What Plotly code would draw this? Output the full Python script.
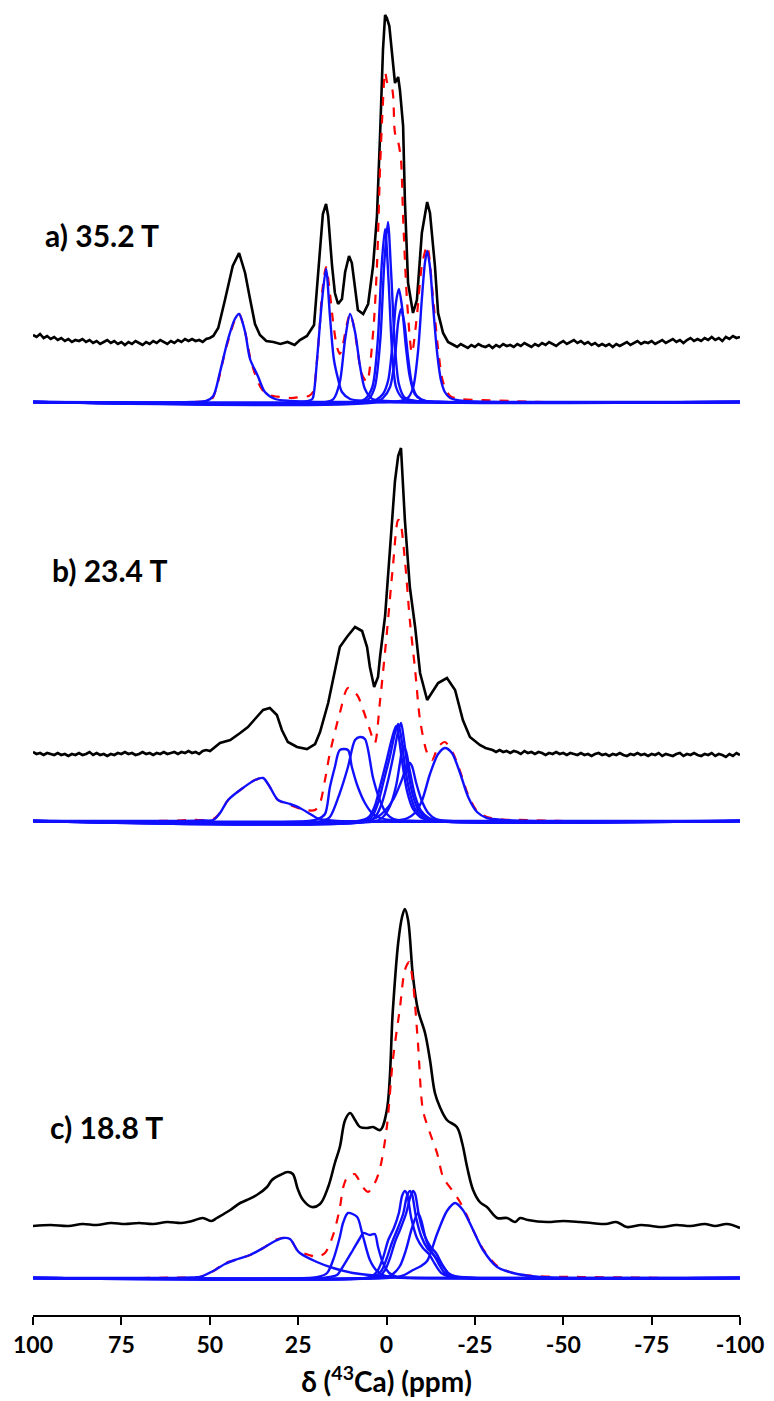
import numpy as np
import plotly.graph_objects as go

# ---------------- data (ppm, intensity above each panel's baseline) ----------------
# Panel a) 35.2 T
a_exp_ppm = [100,99,98,97,96,95,94,93,92,91,90,89,88,87,86,85,84,83,82,81,80,79,78,77,76,75,74,73,72,71,70,69,68,67,66,65,64,63,62,61,60,59,58,57,56,55,54,53,52,51,50,
             49.0,47.6,45.7,43.5,41.7,40.0,38.6,37.2,35.8,34.0,32,30,28,26,24.5,22.5,20.5,19.7,18.8,18.0,17.1,16.5,15.4,14.6,13.7,12.6,11.7,10.6,9.8,8.9,8.1,6.6,5.2,3.8,2.7,1.8,1.0,0.4,-0.1,-0.8,-1.8,-2.4,-3.3,-3.8,-4.7,-5.2,-6.1,-7.5,-8.6,-10.0,-11.5,-12.3,-13.7,-14.6,-16.0,-17.4,
             -19,-20,-21,-22,-23,-24,-25,-26,-27,-28,-29,-30,-31,-32,-33,-34,-35,-36,-37,-38,-39,-40,-41,-42,-43,-44,-45,-46,-47,-48,-49,-50,-51,-52,-53,-54,-55,-56,-57,-58,-59,-60,
             -61,-62,-63,-64,-65,-66,-67,-68,-69,-70,-71,-72,-73,-74,-75,-76,-77,-78,-79,-80,-81,-82,-83,-84,-85,-86,-87,-88,-89,-90,-91,-92,-93,-94,-95,-96,-97,-98,-99,-100]
a_exp_int = [67,65,68,64,66,63,65,62,64,61,63,60,62,61,63,60,62,59,61,58,60,62,59,61,58,60,57,60,58,61,59,57,60,58,61,59,62,60,58,61,59,62,60,63,61,63,61,62,60,63,64,
             66,74,102,136,149,129,103,78,67,61,60,58,60,57,62,66,77,110,152,188,198,186,136,109,98,103,130,146,139,112,92,88,98,136,186,269,352,387,384,376,336,319,325,312,276,202,119,89,102,169,200,189,136,89,69,60,
             57,55,58,56,54,57,55,58,56,55,57,54,57,55,58,56,57,55,58,56,59,57,55,58,56,59,57,60,58,56,59,61,58,60,62,59,61,58,60,57,59,56,
             58,56,58,55,58,56,58,60,57,59,61,58,60,59,61,58,60,62,59,61,63,60,62,59,62,64,61,63,61,64,62,65,62,64,61,65,63,66,64,65]
a_fit_ppm = [100,55,50,49.0,47.1,45.7,44.2,42.9,41.7,40.6,39.5,38.6,37.2,35.5,34,32,30,27,24.5,22,20.8,19.7,18.8,18.2,17.1,16.2,15.1,14.0,13.2,12.3,11.2,10.3,9.5,8.3,7.2,6.1,5.5,3.8,2.7,1.8,1.0,0.4,-0.4,-1.5,-2.4,-3.3,-4.1,-4.7,-5.8,-7.2,-8.6,-10.0,-11.5,-13.2,-14.6,-16.0,-18.0,-21,-27,-35,-45,-100]
a_fit_int = [0,0,1,5,28,50,68,82,88,78,62,45,28,14,8,6,5,4,5,6,10,40,80,110,135,115,80,55,48,58,78,88,80,55,30,22,20,69,136,236,300,330,317,314,269,260,242,185,102,49,86,136,156,103,53,20,6,3,2,1,0,0]

a_comp = [
    ([100,55,51,49.0,47.1,44.8,42.9,41.7,40.0,38.6,36.4,34.4,31.5,27,20,-100],
     [0,0,1,6,30,63,83,88,70,43,26,10,3,1,0,0]),
    ([100,24,21,20.5,19.4,18.2,17.1,16.0,14.9,13.7,12.6,10.3,6,0,-100],
     [0,0,3,10,53,103,133,86,43,23,10,3,1,0,0]),
    ([100,17,15,13.2,11.7,10.3,8.9,7.5,6.1,4,0,-5,-100],
     [0,0,3,20,63,88,70,36,13,3,1,0,0]),
    ([100,8,6,4,2.5,1.3,0.4,-0.6,-1.6,-2.7,-4.5,-8,-15,-100],
     [0,0,3,15,60,140,173,120,50,15,4,1,0,0]),
    ([100,7,5,3.3,1.8,0.6,-0.4,-1.3,-2.4,-3.5,-5,-8,-15,-100],
     [0,0,3,15,60,140,180,130,55,18,5,1,0,0]),
    ([100,5,3,1,-0.5,-1.8,-2.7,-3.5,-4.4,-5.5,-6.6,-8,-10,-14,-100],
     [0,0,2,8,22,62,100,113,95,55,25,8,2,0,0]),
    ([100,3,1,-1,-2.4,-3.3,-4.1,-5.0,-6.1,-7.2,-8.6,-11,-15,-100],
     [0,0,4,15,45,80,93,80,45,18,6,1,0,0]),
    ([100,0,-4,-6,-7.5,-8.9,-10.0,-10.9,-11.5,-12.3,-13.2,-14.3,-15.4,-16.5,-18,-22,-30,-100],
     [0,0,1,4,14,50,103,140,151,135,95,50,22,10,4,1,0,0]),
]

# Panel b) 23.4 T
b_exp_ppm = [100,99,98,97,96,95,94,93,92,91,90,89,88,87,86,85,84,83,82,81,80,79,78,77,76,75,74,73,72,71,70,69,68,67,66,65,64,63,62,61,60,59,58,57,56,55,54,53,52,51,
             49.9,47.1,44.2,41.4,39.2,36.7,34.9,33.0,31.0,29.6,27.9,25.3,22.5,20.2,18.8,16.5,14.6,13.2,11.2,8.9,6.9,5.5,4.7,3.5,2.4,1.8,0.4,-1.0,-2.4,-3.3,-4.1,-5.2,-6.6,-8.1,-9.5,-11.5,-14.6,-17.1,-19.4,-21.6,-23.6,-26.4,-28,
             -29,-30,-31,-32,-33,-34,-35,-36,-37,-38,-39,-40,-41,-42,-43,-44,-45,-46,-47,-48,-49,-50,-51,-52,-53,-54,-55,-56,-57,-58,-59,-60,-61,-62,-63,-64,
             -65,-66,-67,-68,-69,-70,-71,-72,-73,-74,-75,-76,-77,-78,-79,-80,-81,-82,-83,-84,-85,-86,-87,-88,-89,-90,-91,-92,-93,-94,-95,-96,-97,-98,-99,-100]
b_exp_int = [69,67,68,66,68,67,66,68,66,67,65,67,66,68,66,67,69,66,68,66,67,65,67,66,68,67,69,67,68,66,67,69,67,68,66,68,67,69,67,68,69,67,69,68,70,68,69,67,70,71,
             70,78,81,88,94,104,111,113,106,91,79,74,72,77,89,118,151,174,184,194,190,174,154,134,144,165,205,268,340,365,373,301,234,194,148,121,138,143,131,101,84,76,73,
             72,71,69,71,69,70,68,70,69,67,70,68,69,67,69,68,66,68,67,69,67,68,66,68,67,66,68,66,67,65,67,68,66,67,65,67,
             66,68,66,65,67,66,68,66,67,65,67,66,68,65,67,66,65,67,68,65,67,66,68,66,65,67,66,68,65,67,66,64,67,65,68,66]
b_fit_ppm = [100,65,55,49.0,47.1,44.8,41.4,37.2,34.9,33.0,30.7,27.3,23.1,20.2,18.8,17.4,16.0,13.2,10.9,8.3,6.6,4.7,3.3,1.8,-0.1,-1.8,-3.3,-3.8,-5.2,-6.6,-8.1,-9.5,-11.5,-12.9,-14.6,-16.5,-18.8,-20.8,-23.1,-25.6,-28.4,-33,-40,-50,-100]
b_fit_int = [0,0,1,2,8,21,31,41,43,34,21,16,11,11,18,41,68,108,133,126,111,91,78,121,188,254,301,300,261,201,151,101,68,61,74,79,68,50,26,10,4,1.5,1,0,0]

b_comp = [
    ([100,60,52,49.0,47.1,44.8,41.4,37.2,34.9,33.0,30.7,27.3,24.5,21.6,19.7,17,14,-100],
     [0,0,0.5,1,8,21,31,41,43,34,21,17,13,7,3,1,0,0]),
    ([100,22,19.4,17.4,16.0,14.6,13.2,10.9,9.8,8.1,6.1,4.1,1.8,-1,-6,-100],
     [0,0,2,7,34,54,71,71,54,34,18,8,3,1,0,0]),
    ([100,18,16.0,13.2,10.9,8.9,7.5,6.1,3.8,1.8,-0.1,-2,-5,-10,-100],
     [0,0,4,28,54,81,84,82,43,20,7,2,0.5,0,0]),
    ([100,8,5,3.3,1.8,0,-1.5,-2.7,-3.3,-4.4,-5.8,-7.5,-9.5,-12,-16,-100],
     [0,0,4,15,35,60,82,95,88,60,30,12,4,1,0,0]),
    ([100,6,4,2.4,0.8,-1.0,-2.4,-3.3,-4.1,-5.2,-6.6,-8.4,-10.5,-14,-100],
     [0,0,5,18,40,65,88,97,85,55,28,10,3,0,0]),
    ([100,5,3,1.3,-0.4,-2.1,-3.3,-4.1,-4.9,-6.1,-7.5,-9.2,-11.5,-15,-100],
     [0,0,5,18,40,68,90,98,82,50,25,10,3,0,0]),
    ([100,3,1,-1,-2.7,-3.8,-4.7,-5.5,-6.6,-8.1,-9.8,-12,-15,-100],
     [0,0,4,15,35,58,75,70,50,25,10,3,0,0]),
    ([100,6,3,0.5,-2,-4,-5.5,-6.6,-7.2,-8.4,-10,-11.8,-14,-18,-100],
     [0,0,3,10,22,38,52,58,55,38,20,8,2,0,0]),
    ([100,-2,-4,-6,-8,-10.0,-12.3,-14.6,-16.5,-18.5,-20.8,-23.1,-25.6,-28.4,-33,-40,-100],
     [0,0,1,3,8,20,47,67,73,68,48,24,9,3,1,0,0]),
]

# Panel c) 18.8 T
c_exp_ppm = [100,95,90,86,82,78,74,70,66,62,58,55,52,49.5,48,44.2,41.4,39.5,36.7,33.8,32.4,30.1,27.9,26.5,25.1,23.6,21.1,18.8,16.5,14.6,13.2,11.7,10.3,8.9,7.5,5.5,3.8,1.8,-0.1,-1.8,-3.3,-4.4,-5.2,-6.1,-7.5,-8.9,-10.9,-12.3,-13.7,-15.1,-17.1,-19.9,-21.4,-22.8,-24.5,-26.4,-28.4,-31.3,-34.1,-36.4,-37.8,-40,-45.4,-50,-54.7,-58,-62,-65,-68,-72,-75,-78,-82,-86,-90,-93,-96.3,-100]
c_exp_int = [52,53,52,54,53,55,54,55,54,56,55,57,60,57,60,68,75,78,83,91,98,103,106,104,89,78,71,74,91,115,131,158,165,158,151,150,151,148,168,268,335,361,369,358,301,268,245,218,185,171,158,151,135,111,88,76,71,60,60,56,60,58,56,57,56,55,54,56,51,53,52,51,53,52,54,52,54,50]
c_fit_ppm = [100,70,58,52.8,48.5,45.7,42.9,38.6,34.4,31.5,29.3,27.3,25.3,24.5,21.9,19.7,17.4,15.1,13.2,12.3,11.2,9.0,8.3,6.5,5.2,3.3,1.8,-0.1,-1.8,-3.8,-5.2,-6.4,-7.5,-8.9,-10.3,-12.3,-14.3,-16.0,-18.5,-20.8,-22.8,-24.5,-27.3,-31.3,-35.8,-42,-55,-70,-80,-100]
c_fit_int = [0,0,0.5,1,8,15,18,23,31,38,40,39,28,26,23,21,25,43,70,90,100,104,101,90,86,95,110,151,218,270,308,316,295,235,168,145,125,101,88,76,62,48,29,12,5,2,1,0.5,0,0]

c_comp = [
    ([100,60,55,52.8,48.5,45.7,42.9,38.6,34.4,31.5,29.3,27.3,25.3,24.5,19.7,15.1,9.5,1.8,-4,-10,-100],
     [0,0,0.5,1,8,14,18,23,31,37,40,39,28,25,16,10,5,2,0.5,0,0]),
    ([100,22,19.4,16.8,15.1,13.2,12.3,10.9,8.3,6.9,4.7,2.7,0.4,-3,-8,-100],
     [0,0,1,5,18,41,55,65,61,45,18,7,2,0.5,0,0]),
    ([100,18,16,14.0,12.4,9.5,7.5,6.6,4.7,3.3,2.4,1.0,-0.8,-3,-8,-100],
     [0,0,1,3,11,28,40,45,43,44,31,15,5,1,0,0]),
    ([100,6,4,2.4,1.0,-0.5,-2.1,-3.5,-4.4,-5.2,-5.8,-7.0,-8.6,-10.3,-12.0,-13.7,-15.5,-18,-22,-100],
     [0,0,2,8,20,38,50,65,82,87,84,60,40,30,24,14,5,1,0,0]),
    ([100,5,3,1.3,-0.1,-1.6,-3.0,-4.7,-5.8,-6.6,-7.2,-8.4,-9.8,-11.5,-13.2,-14.8,-16.5,-19,-23,-100],
     [0,0,2,8,20,36,48,64,82,87,84,60,42,30,24,14,5,1,0,0]),
    ([100,4,2,0.4,-1.0,-2.4,-3.8,-5.5,-6.8,-7.5,-8.1,-9.2,-10.6,-12.3,-14.0,-15.7,-17.4,-20,-24,-100],
     [0,0,2,8,20,36,48,64,82,87,84,62,44,32,25,14,5,1,0,0]),
    ([100,2,0,-1.8,-3.8,-5.5,-7.2,-8.9,-9.8,-11.2,-12.9,-14.6,-16.3,-18,-21,-25,-100],
     [0,0,1,4,12,28,50,65,58,38,25,18,10,3,1,0,0]),
    ([100,0,-3,-5,-7.5,-9.8,-11.5,-14.3,-17.1,-19.4,-21.6,-24.5,-27.3,-31.3,-35.8,-42,-50,-100],
     [0,0,1,3,8,12,17,44,67,75,68,48,28,11,5,1.5,0,0]),
]

panel_labels = ["a) 35.2 T", "b) 23.4 T", "c) 18.8 T"]
tick_vals = [100, 75, 50, 25, 0, -25, -50, -75, -100]
tick_text = ["100", "75", "50", "25", "0", "-25", "-50", "-75", "-100"]
x_title = "δ (<sup>43</sup>Ca) (ppm)"

# ---------------- figure ----------------
panels = [
    (a_exp_ppm, a_exp_int, a_fit_ppm, a_fit_int, a_comp, "linear"),
    (b_exp_ppm, b_exp_int, b_fit_ppm, b_fit_int, b_comp, "linear"),
    (c_exp_ppm, c_exp_int, c_fit_ppm, c_fit_int, c_comp, "spline"),
]
offsets = [913, 494, 37]           # vertical stacking of the three spectra
label_pos = [(97.2, 1080), (95.2, 745), (95.8, 188)]
FONT = "Lato, Open Sans, sans-serif"

fig = go.Figure()
for (ep, ei, fp, fi, comps, shp), off in zip(panels, offsets):
    fig.add_trace(go.Scatter(x=ep, y=np.array(ei, float) + off, mode="lines",
                             line=dict(color="black", width=2.6, shape=shp),
                             showlegend=False, hoverinfo="skip"))
    fig.add_trace(go.Scatter(x=fp, y=np.array(fi, float) + off, mode="lines",
                             line=dict(color="#ff0000", width=2.2, dash="dash", shape="spline", smoothing=0.8),
                             showlegend=False, hoverinfo="skip"))
    for cp, ci in comps:
        fig.add_trace(go.Scatter(x=cp, y=np.array(ci, float) + off, mode="lines",
                                 line=dict(color="#1010ff", width=2.4, shape="spline", smoothing=0.8),
                                 showlegend=False, hoverinfo="skip"))

for txt, (lx, ly) in zip(panel_labels, label_pos):
    fig.add_annotation(x=lx, y=ly, text=txt, showarrow=False,
                       xanchor="left", yanchor="middle",
                       font=dict(family=FONT, size=30, color="black", weight="bold"))

fig.update_layout(
    width=774, height=1401,
    margin=dict(l=33, r=34, t=0, b=86),
    paper_bgcolor="white", plot_bgcolor="white",
    xaxis=dict(range=[100, -100], tickvals=tick_vals, ticktext=tick_text,
               showgrid=False, zeroline=False, showline=True, linecolor="black", linewidth=2,
               ticks="outside", ticklen=8, tickwidth=2, tickcolor="black",
               tickfont=dict(family=FONT, size=23, color="black", weight="bold"),
               title=dict(text=x_title, standoff=16,
                          font=dict(family=FONT, size=28, color="black", weight="bold"))),
    yaxis=dict(range=[0, 1315], visible=False, fixedrange=True),
)

fig.write_html("out.html")
